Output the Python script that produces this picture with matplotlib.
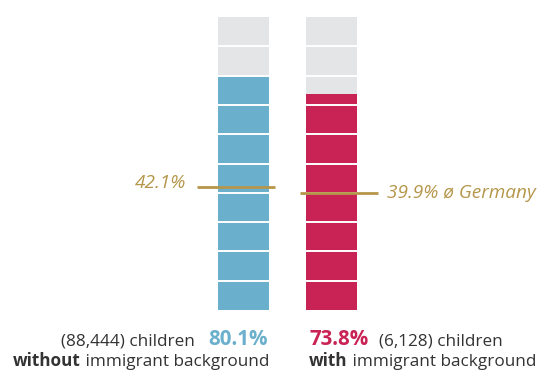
import matplotlib
matplotlib.use("Agg")
import matplotlib.pyplot as plt

# data
groups = ["without", "with"]
shares = [80.1, 73.8]
germany_avg = [42.1, 39.9]
children = ["(88,444) children", "(6,128) children"]
colors = ["#6ab0cd", "#c92254"]

GRAY = "#e4e5e7"
GOLD = "#b5964a"
TEXT = "#333333"
W, H = 543, 373
FS = 12.3      # body text
FS_PCT = 14.8  # bold shares
FS_AVG = 13.7  # gold labels

plt.rcParams["font.family"] = ["Open Sans", "DejaVu Sans"]

fig = plt.figure(figsize=(W / 100, H / 100), dpi=100)
# bars span y=17..310 px, centers at 243.5 and 331.5 px
ax = fig.add_axes([0, (H - 310) / H, 1, (310 - 17) / H])
ax.set_xlim(-243.5 / 88, (W - 243.5) / 88)
ax.set_ylim(0, 100)
ax.axis("off")

bw = 51 / 88
x = [0, 1]
ax.bar(x, [100, 100], width=bw, color=GRAY, zorder=1)
ax.bar(x, shares, width=bw, color=colors, zorder=2)
for xi in x:
    for k in range(1, 10):
        ax.plot([xi - bw / 2, xi + bw / 2], [k * 10, k * 10], color="white",
                lw=1.4, zorder=3, solid_capstyle="butt")

# Germany average lines
ax.plot([-0.53, 0.36], [germany_avg[0]] * 2, color=GOLD, lw=2, zorder=4,
        solid_capstyle="butt")
ax.plot([1 - 0.36, 1 + 0.53], [germany_avg[1]] * 2, color=GOLD, lw=2, zorder=4,
        solid_capstyle="butt")
ax.text(-0.645, germany_avg[0] + 1.3, f"{germany_avg[0]:.1f}%", ha="right",
        va="center", color=GOLD, style="italic", fontsize=FS_AVG)
ax.text(1 + 0.63, germany_avg[1], f"{germany_avg[1]:.1f}% ø Germany",
        ha="left", va="center", color=GOLD, style="italic", fontsize=FS_AVG)


def px(xp, yp):
    return xp / W, 1 - yp / H


# bottom labels, left group
fig.text(*px(195, 345), children[0], ha="right", va="baseline",
         color=TEXT, fontsize=FS)
fig.text(*px(208, 345), f"{shares[0]:.1f}%", ha="left", va="baseline",
         color=colors[0], fontsize=FS_PCT, fontweight="bold")
t = fig.text(*px(269, 366), " immigrant background", ha="right", va="baseline",
             color=TEXT, fontsize=FS)
ax.annotate(groups[0], xy=(0, 0), xycoords=t, ha="right", va="bottom",
            color=TEXT, fontsize=FS, fontweight="bold",
            annotation_clip=False)

# bottom labels, right group
fig.text(*px(309, 345), f"{shares[1]:.1f}%", ha="left", va="baseline",
         color=colors[1], fontsize=FS_PCT, fontweight="bold")
fig.text(*px(379, 345), children[1], ha="left", va="baseline",
         color=TEXT, fontsize=FS)
t = fig.text(*px(309, 366), groups[1], ha="left", va="baseline",
             color=TEXT, fontsize=FS, fontweight="bold")
ax.annotate(" immigrant background", xy=(1, 0), xycoords=t, ha="left",
            va="bottom", color=TEXT, fontsize=FS, annotation_clip=False)

fig.savefig("out.png", dpi=100)
